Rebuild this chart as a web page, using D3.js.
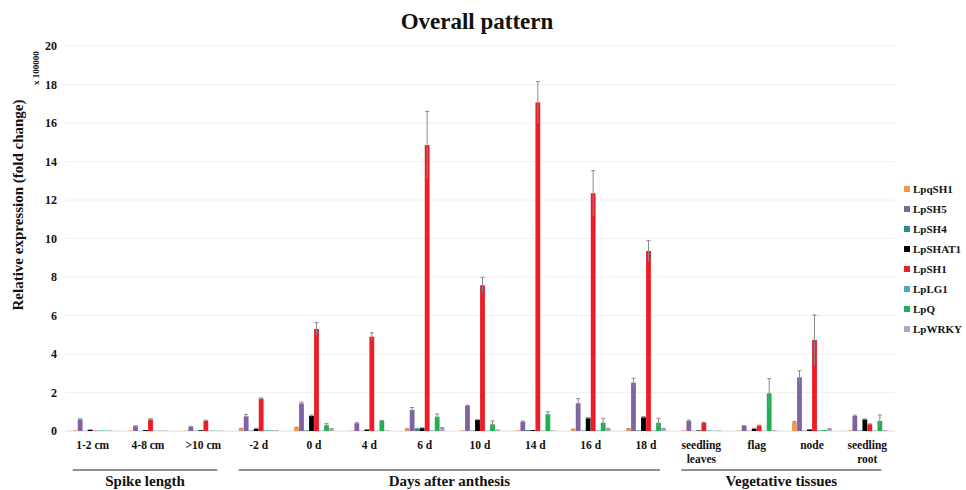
<!DOCTYPE html>
<html>
<head>
<meta charset="utf-8">
<script src="https://cdn.jsdelivr.net/npm/d3@7"></script>
<style>
  body { margin: 0; background: #fff; }
  text { font-family: "Liberation Serif", "Times New Roman", serif; font-weight: bold; fill: #111; }
</style>
</head>
<body>
<svg id="chart" width="966" height="490"></svg>
<script>
// categories along the x axis
var categories = ["1-2 cm", "4-8 cm", ">10 cm", "-2 d", "0 d", "4 d", "6 d", "10 d", "14 d", "16 d", "18 d",
                  "seedling leaves", "flag", "node", "seedling root"];
var series = ["LpqSH1", "LpSH5", "LpSH4", "LpSHAT1", "LpSH1", "LpLG1", "LpQ", "LpWRKY"];
var colors = ["#f79646", "#8064a2", "#31859c", "#000000", "#ee1c25", "#4bacc6", "#1fb14f", "#b3a2c7"];

// values (x 100000)
var LpqSH1  = [0.03, 0.02, 0.02, 0.12, 0.18, 0.02, 0.10, 0.03, 0.03, 0.08, 0.10, 0.03, 0.02, 0.45, 0.03];
var LpSH5   = [0.60, 0.25, 0.22, 0.76, 1.43, 0.40, 1.09, 1.31, 0.48, 1.44, 2.51, 0.52, 0.26, 2.79, 0.78];
var LpSH4   = [0.01, 0.01, 0.01, 0.02, 0.03, 0.01, 0.12, 0.02, 0.05, 0.02, 0.03, 0.01, 0.01, 0.02, 0.02];
var LpSHAT1 = [0.07, 0.05, 0.04, 0.12, 0.79, 0.08, 0.15, 0.57, 0.05, 0.66, 0.71, 0.03, 0.12, 0.08, 0.60];
var LpSH1   = [0.02, 0.60, 0.53, 1.68, 5.30, 4.90, 14.85, 7.57, 17.07, 12.35, 9.35, 0.43, 0.28, 4.73, 0.35];
var LpLG1   = [0.03, 0.01, 0.02, 0.03, 0.02, 0.01, 0.03, 0.02, 0.02, 0.03, 0.03, 0.03, 0.01, 0.03, 0.02];
var LpQ     = [0.02, 0.01, 0.01, 0.03, 0.30, 0.52, 0.74, 0.35, 0.87, 0.43, 0.43, 0.01, 1.96, 0.05, 0.52];
var LpWRKY  = [0.03, 0.02, 0.02, 0.04, 0.10, 0.03, 0.15, 0.08, 0.03, 0.12, 0.12, 0.03, 0.05, 0.10, 0.05];

// error bars (standard error)
var errLpqSH1  = [0.01, 0.01, 0.01, 0.02, 0.02, 0.01, 0.02, 0.01, 0.01, 0.02, 0.02, 0.01, 0.01, 0.05, 0.01];
var errLpSH5   = [0.03, 0.02, 0.02, 0.10, 0.07, 0.03, 0.13, 0.03, 0.04, 0.24, 0.23, 0.05, 0.02, 0.34, 0.04];
var errLpSH4   = [0.00, 0.00, 0.00, 0.00, 0.01, 0.00, 0.02, 0.00, 0.01, 0.00, 0.01, 0.00, 0.00, 0.00, 0.00];
var errLpSHAT1 = [0.01, 0.01, 0.01, 0.02, 0.04, 0.01, 0.02, 0.03, 0.01, 0.04, 0.04, 0.01, 0.02, 0.01, 0.03];
var errLpSH1   = [0.01, 0.04, 0.03, 0.04, 0.33, 0.20, 1.75, 0.41, 1.08, 1.17, 0.54, 0.03, 0.02, 1.30, 0.02];
var errLpLG1   = [0.00, 0.00, 0.00, 0.00, 0.00, 0.00, 0.01, 0.00, 0.00, 0.00, 0.00, 0.00, 0.00, 0.00, 0.00];
var errLpQ     = [0.00, 0.00, 0.00, 0.01, 0.08, 0.03, 0.14, 0.17, 0.13, 0.23, 0.23, 0.00, 0.76, 0.01, 0.31];
var errLpWRKY  = [0.01, 0.00, 0.00, 0.01, 0.02, 0.01, 0.03, 0.01, 0.01, 0.02, 0.02, 0.01, 0.01, 0.02, 0.01];

var yTicks = [0, 2, 4, 6, 8, 10, 12, 14, 16, 18, 20];

// group brackets under the axis
var groupLabels = ["Spike length", "Days after anthesis", "Vegetative tissues"];
var groupStart = [0, 3, 11];
var groupEnd = [2, 10, 14];

(function() {
var values = [LpqSH1, LpSH5, LpSH4, LpSHAT1, LpSH1, LpLG1, LpQ, LpWRKY];
var errors = [errLpqSH1, errLpSH5, errLpSH4, errLpSHAT1, errLpSH1, errLpLG1, errLpQ, errLpWRKY];

var svg = d3.select("#chart");
var plotLeft = 65, plotRight = 895, plotTop = 46, plotBottom = 431;

var x0 = d3.scaleBand().domain(categories).range([plotLeft, plotRight]).paddingInner(0.28).paddingOuter(0.14);
var x1 = d3.scaleBand().domain(series).range([0, x0.bandwidth()]).paddingInner(0.04);
var y = d3.scaleLinear().domain([0, 20]).range([plotBottom, plotTop]);
var color = d3.scaleOrdinal().domain(series).range(colors);

// title
svg.append("text")
  .attr("x", 477).attr("y", 29)
  .attr("text-anchor", "middle")
  .style("font-size", "23px")
  .text("Overall pattern");

// gridlines
svg.append("g").selectAll("line")
  .data(yTicks.slice(1))
 .enter().append("line")
  .attr("x1", plotLeft).attr("x2", plotRight)
  .attr("y1", d => y(d)).attr("y2", d => y(d))
  .attr("stroke", "#eef1f1").attr("stroke-width", 1);

// baseline
svg.append("line")
  .attr("x1", plotLeft).attr("x2", plotRight)
  .attr("y1", y(0)).attr("y2", y(0))
  .attr("stroke", "#dcdcdc");

// y axis ticks (no domain line)
var yAxis = svg.append("g")
  .attr("transform", "translate(" + (plotLeft - 6) + ",0)")
  .call(d3.axisLeft(y).tickValues(yTicks).tickSize(0).tickPadding(2));
yAxis.select(".domain").remove();
yAxis.selectAll("text")
  .style("font-family", "Liberation Serif, serif")
  .style("font-weight", "bold")
  .style("font-size", "12px")
  .attr("fill", "#111");

// y labels
svg.append("text")
  .attr("transform", "translate(23,205) rotate(-90)")
  .attr("text-anchor", "middle")
  .style("font-size", "15px")
  .text("Relative expression (fold change)");
svg.append("text")
  .attr("transform", "translate(39,68) rotate(-90)")
  .attr("text-anchor", "middle")
  .style("font-size", "9px")
  .text("x 100000");

// bars
var groups = svg.append("g").selectAll("g")
  .data(categories)
 .enter().append("g")
  .attr("transform", d => "translate(" + x0(d) + ",0)");

var barData = function(c, i) {
  return series.map((s, j) => ({ s: s, v: values[j][i], e: errors[j][i] }));
};

groups.selectAll("rect")
  .data(barData)
 .enter().append("rect")
  .attr("x", d => x1(d.s))
  .attr("width", x1.bandwidth())
  .attr("y", d => y(d.v))
  .attr("height", d => y(0) - y(d.v))
  .attr("fill", d => color(d.s));

// error bars
var eb = groups.selectAll("g.err")
  .data((c, i) => barData(c, i).filter(d => d.e > 0.015))
 .enter().append("g").attr("class", "err");
eb.append("line")
  .attr("x1", d => x1(d.s) + x1.bandwidth() / 2)
  .attr("x2", d => x1(d.s) + x1.bandwidth() / 2)
  .attr("y1", d => y(d.v - d.e))
  .attr("y2", d => y(d.v + d.e))
  .attr("stroke", "#8a8a8a").attr("stroke-width", 1);
eb.append("line")
  .attr("x1", d => x1(d.s) + x1.bandwidth() / 2 - 2)
  .attr("x2", d => x1(d.s) + x1.bandwidth() / 2 + 2)
  .attr("y1", d => y(d.v + d.e))
  .attr("y2", d => y(d.v + d.e))
  .attr("stroke", "#8a8a8a").attr("stroke-width", 1);

// category labels
groups.append("text")
  .attr("x", x0.bandwidth() / 2)
  .attr("text-anchor", "middle")
  .style("font-size", "11.5px")
  .each(function(d) {
    var words = d.indexOf("seedling") === 0 ? d.split(" ") : [d];
    d3.select(this).selectAll("tspan")
      .data(words)
     .enter().append("tspan")
      .attr("x", x0.bandwidth() / 2)
      .attr("y", (w, k) => 449 + k * 14)
      .text(w => w);
  });

// group brackets
groupLabels.forEach(function(g, i) {
  var xa = x0(categories[groupStart[i]]),
      xb = x0(categories[groupEnd[i]]) + x0.bandwidth() * 0.85;
  svg.append("line")
    .attr("x1", xa).attr("x2", xb)
    .attr("y1", 470).attr("y2", 470)
    .attr("stroke", "#222").attr("stroke-width", 1.2);
  svg.append("text")
    .attr("x", (xa + xb) / 2).attr("y", 486)
    .attr("text-anchor", "middle")
    .style("font-size", "15px")
    .text(g);
});

// legend
var legend = svg.append("g").selectAll("g")
  .data(series)
 .enter().append("g")
  .attr("transform", (d, i) => "translate(904," + (190 + i * 20) + ")");
legend.append("rect")
  .attr("x", 0).attr("y", -4).attr("width", 6).attr("height", 6)
  .attr("fill", d => color(d));
legend.append("text")
  .attr("x", 9).attr("y", 3)
  .style("font-size", "11px")
  .text(d => d);
})();
</script>
</body>
</html>
